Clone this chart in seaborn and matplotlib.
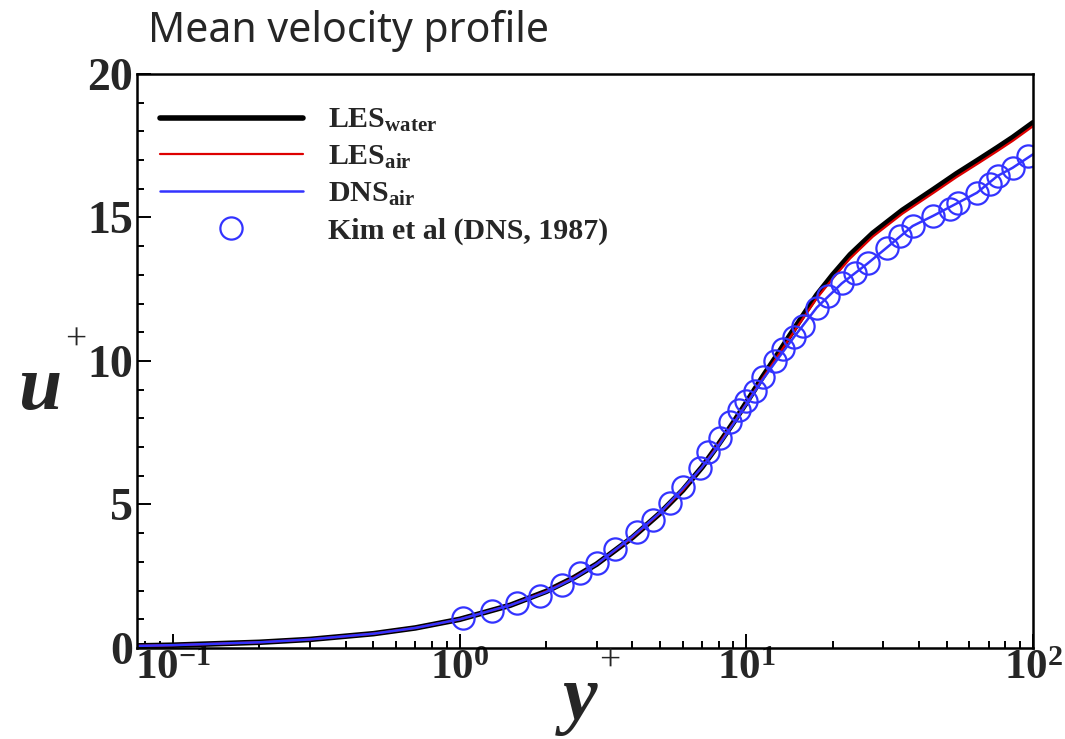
import numpy as np
import pandas as pd
import seaborn as sns
import matplotlib
matplotlib.use("Agg")
from matplotlib import pyplot as plt
from matplotlib.ticker import FuncFormatter, LogLocator, MultipleLocator

# values
y_les = [0.075, 0.1, 0.2, 0.3, 0.5, 0.7, 1.0, 1.5, 2.0, 2.5, 3.0, 4.0, 5.0, 6.0, 7.0, 8.0,
         9.0, 10.0, 11.4, 12.6, 14.2, 15.8, 17.6, 20.0, 23.0, 27.6, 35.0, 45.0, 54.0, 65.0,
         75.0, 85.0, 100.0]
u_les_water = [0.075, 0.1, 0.2, 0.3, 0.5, 0.7, 1.0, 1.49, 1.97, 2.45, 2.92, 3.85, 4.7, 5.5,
               6.3, 7.1, 7.85, 8.55, 9.45, 10.1, 10.9, 11.6, 12.3, 13.0, 13.7, 14.45, 15.25,
               15.98, 16.52, 17.03, 17.43, 17.79, 18.3]
u_les_air = [0.075, 0.1, 0.2, 0.3, 0.5, 0.7, 1.0, 1.49, 1.97, 2.45, 2.92, 3.85, 4.7, 5.5,
             6.3, 7.1, 7.83, 8.52, 9.4, 10.04, 10.82, 11.5, 12.18, 12.87, 13.57, 14.33, 15.13,
             15.86, 16.4, 16.91, 17.31, 17.67, 18.18]

y_dns = [0.075, 0.1, 0.2, 0.3, 0.5, 0.7, 1.0, 1.5, 2.0, 2.5, 3.0, 4.0, 5.0, 6.0, 7.0, 8.0,
         9.0, 10.0, 11.4, 12.6, 14.7, 17.6, 21.5, 26.5, 30.9, 38.0, 44.9, 54.7, 63.7, 75.3,
         84.9, 100.0]
u_dns_air = [0.075, 0.1, 0.2, 0.3, 0.5, 0.7, 1.0, 1.49, 1.95, 2.43, 2.92, 3.88, 4.72, 5.55,
             6.3, 7.05, 7.8, 8.5, 9.35, 9.95, 10.85, 11.86, 12.7, 13.4, 13.95, 14.7, 15.06,
             15.51, 15.86, 16.45, 16.73, 17.2]

y_kim = [1.03, 1.30, 1.58, 1.90, 2.27, 2.62, 3.01, 3.47, 4.15, 4.71, 5.4, 6.0, 6.88, 7.33,
         8.07, 8.76, 9.4, 10.0, 10.7, 11.4, 12.6, 13.4, 14.7, 15.7, 17.6, 19.2, 21.5, 23.9,
         26.5, 30.9, 34.3, 38.0, 44.9, 51.4, 54.7, 63.7, 70.6, 75.3, 84.9, 95.8]
u_kim = [1.04, 1.29, 1.57, 1.80, 2.19, 2.61, 2.96, 3.44, 4.03, 4.45, 5.04, 5.6, 6.26, 6.82,
         7.3, 7.86, 8.3, 8.6, 8.95, 9.43, 10.0, 10.43, 10.82, 11.23, 11.86, 12.28, 12.7,
         13.08, 13.4, 13.95, 14.35, 14.7, 15.06, 15.3, 15.51, 15.86, 16.17, 16.45, 16.73,
         17.15]

les = pd.DataFrame({"y": y_les, "water": u_les_water, "air": u_les_air})
dns = pd.DataFrame({"y": y_dns, "u": u_dns_air})
kim = pd.DataFrame({"y": y_kim, "u": u_kim})

sns.set_theme(style="ticks")
plt.rcParams["font.family"] = ["Liberation Serif", "DejaVu Serif"]
plt.rcParams["mathtext.fontset"] = "custom"
plt.rcParams["mathtext.rm"] = "Liberation Serif"
plt.rcParams["mathtext.bf"] = "Liberation Serif:bold"
plt.rcParams["mathtext.it"] = "Liberation Serif:italic"

fig = plt.figure(figsize=(10.65, 7.39), dpi=100)
ax = fig.add_axes([0.1286, 0.1231, 0.8414, 0.7769])

blue = "#3333ff"
sns.lineplot(data=les, x="y", y="water", ax=ax, color="black", lw=4.0, sort=False,
             estimator=None, label=r"LES$_{\mathbf{water}}$")
sns.lineplot(data=les, x="y", y="air", ax=ax, color="#dd0000", lw=1.6, sort=False,
             estimator=None, label=r"LES$_{\mathbf{air}}$")
sns.lineplot(data=dns, x="y", y="u", ax=ax, color=blue, lw=1.8, sort=False,
             estimator=None, label=r"DNS$_{\mathbf{air}}$")
sns.lineplot(data=kim, x="y", y="u", ax=ax, linestyle="", marker="o", markersize=16,
             markerfacecolor="none", markeredgecolor=blue, markeredgewidth=1.6,
             sort=False, estimator=None, label="Kim et al (DNS, 1987)")

ax.set_xscale("log")
ax.set_xlim(0.0748, 100)
ax.set_ylim(0, 20)
ax.yaxis.set_major_locator(MultipleLocator(5))
ax.yaxis.set_minor_locator(MultipleLocator(1))
ax.xaxis.set_major_locator(LogLocator(base=10))
ax.xaxis.set_minor_locator(LogLocator(base=10, subs=np.arange(2, 10)))
ax.xaxis.set_major_formatter(FuncFormatter(lambda v, p: r"$\mathbf{10^{%d}}$" % round(np.log10(v))))
ax.yaxis.set_major_formatter(FuncFormatter(lambda v, p: "%d" % v))

for s in ax.spines.values():
    s.set_linewidth(1.8)
    s.set_color("black")
ax.tick_params(which="both", direction="in", top=False, right=False, width=1.4, color="black")
ax.tick_params(which="major", length=10)
ax.tick_params(which="minor", length=5)
ax.tick_params(axis="y", which="major", labelsize=33, pad=3)
ax.tick_params(axis="x", which="major", labelsize=31, pad=1)
for lab in ax.get_yticklabels():
    lab.set_fontweight("bold")

# axis titles: big bold italic letter with a raised plain "+"
lab_font = {"family": "Liberation Serif", "weight": "bold", "style": "italic", "size": 56}
ax.set_xlabel("y", fontdict=lab_font)
ax.set_ylabel("u", fontdict=lab_font, rotation=0)
ax.xaxis.label.set_va("baseline")
ax.yaxis.label.set_va("baseline")
ax.yaxis.label.set_ha("center")
ax.xaxis.set_label_coords(0.494, -0.123)
ax.yaxis.set_label_coords(-0.108, 0.417)
ax.text(0.528, -0.024, "+", transform=ax.transAxes, ha="center", va="center", fontsize=27)
ax.text(-0.068, 0.535, "+", transform=ax.transAxes, ha="center", va="center", fontsize=27)

leg = ax.legend(loc="upper left", bbox_to_anchor=(0.012, 0.963), frameon=False,
                prop={"family": "Liberation Serif", "weight": "bold", "size": 21.5},
                handlelength=4.8, handletextpad=0.85, labelspacing=0.32, borderaxespad=0)

fig.text(0.139, 0.986, "Mean velocity profile", ha="left", va="top", fontsize=29.5,
         family=["Noto Sans", "DejaVu Sans"])

plt.savefig("out.png", dpi=100)
